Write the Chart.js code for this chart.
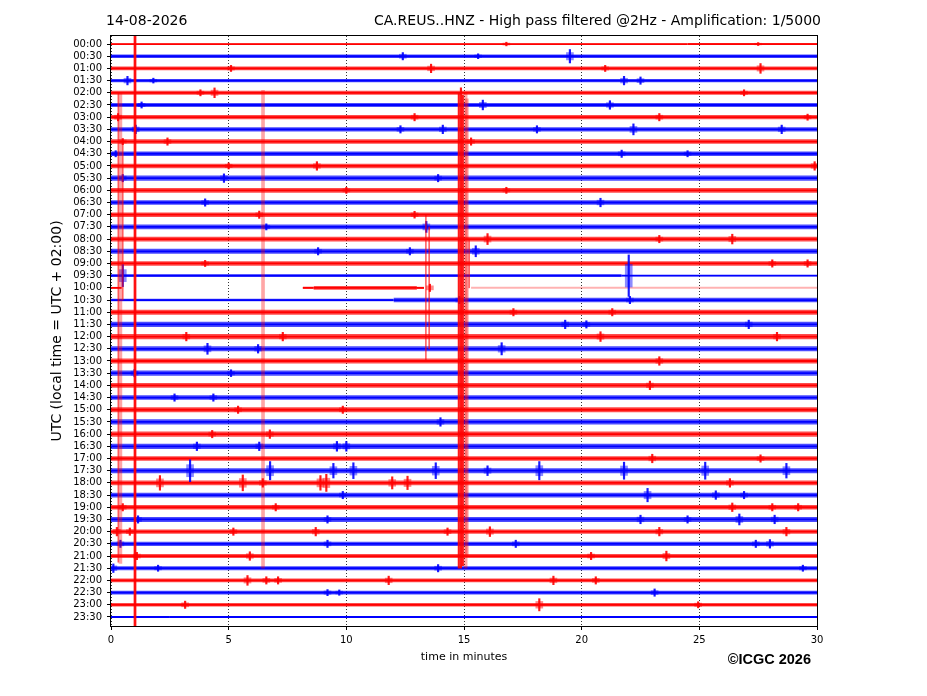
<!DOCTYPE html>
<html>
<head>
<meta charset="utf-8">
<title>CA.REUS..HNZ helicorder</title>
<script src="https://cdn.jsdelivr.net/npm/chart.js@4.4.1/dist/chart.umd.min.js"></script>
<style>
    body { margin: 0; background: #fff; }
    #wrap { width: 927px; height: 696px; position: relative; }
</style>
</head>
<body>
<div id="wrap"><canvas id="helicorder"></canvas></div>
<script>
// Row labels (one trace every 30 minutes)
const rowLabels = [
    "00:00", "00:30", "01:00", "01:30", "02:00", "02:30", "03:00", "03:30",
    "04:00", "04:30", "05:00", "05:30", "06:00", "06:30", "07:00", "07:30",
    "08:00", "08:30", "09:00", "09:30", "10:00", "10:30", "11:00", "11:30",
    "12:00", "12:30", "13:00", "13:30", "14:00", "14:30", "15:00", "15:30",
    "16:00", "16:30", "17:00", "17:30", "18:00", "18:30", "19:00", "19:30",
    "20:00", "20:30", "21:00", "21:30", "22:00", "22:30", "23:00", "23:30"
];

const minuteTicks = [0, 5, 10, 15, 20, 25, 30];

// Background noise per trace: [from minute, to minute, half amplitude in rows]
const noiseSegments = [
    [[0, 24.5, 0.04], [24.5, 30, 0.08]],
    [[0, 30, 0.15]],
    [[0, 30, 0.15]],
    [[0, 30, 0.14]],
    [[0, 30, 0.16]],
    [[0, 30, 0.17]],
    [[0, 30, 0.17]],
    [[0, 30, 0.18]],
    [[0, 30, 0.18]],
    [[0, 30, 0.18]],
    [[0, 30, 0.18]],
    [[0, 30, 0.22]],
    [[0, 30, 0.19]],
    [[0, 30, 0.19]],
    [[0, 30, 0.19]],
    [[0, 30, 0.19]],
    [[0, 30, 0.2]],
    [[0, 30, 0.2]],
    [[0, 30, 0.19]],
    [[0, 21.7, 0.12], [21.7, 30, 0.04]],
    [[0, 0.45, 0.06], [8.15, 8.6, 0.08], [8.6, 13.0, 0.16], [13.0, 13.3, 0.08]],
    [[0, 12, 0.1], [12, 30, 0.19]],
    [[0, 30, 0.2]],
    [[0, 30, 0.22]],
    [[0, 30, 0.22]],
    [[0, 30, 0.21]],
    [[0, 30, 0.2]],
    [[0, 30, 0.22]],
    [[0, 30, 0.2]],
    [[0, 30, 0.18]],
    [[0, 30, 0.2]],
    [[0, 30, 0.22]],
    [[0, 30, 0.21]],
    [[0, 30, 0.21]],
    [[0, 30, 0.18]],
    [[0, 30, 0.2]],
    [[0, 30, 0.2]],
    [[0, 30, 0.2]],
    [[0, 30, 0.18]],
    [[0, 30, 0.2]],
    [[0, 30, 0.18]],
    [[0, 30, 0.18]],
    [[0, 30, 0.17]],
    [[0, 30, 0.16]],
    [[0, 30, 0.16]],
    [[0, 30, 0.15]],
    [[0, 30, 0.15]],
    [[0, 2.5, 0.09], [2.5, 30, 0.05]]
];

// Traces with almost no signal: [row, from minute, to minute]
const faintSegments = [
    [20, 15.3, 30]
];

// Local bursts: [row, minute, half amplitude in rows]
const bursts = [
    [0, 16.8, 0.15], [0, 27.5, 0.12],
    [1, 12.4, 0.3], [1, 15.6, 0.2], [1, 19.5, 0.55],
    [2, 5.1, 0.25], [2, 13.6, 0.35], [2, 21.0, 0.25], [2, 27.6, 0.4],
    [3, 0.7, 0.35], [3, 1.8, 0.2], [3, 21.8, 0.35], [3, 22.5, 0.3],
    [4, 3.8, 0.25], [4, 4.4, 0.4], [4, 26.9, 0.25],
    [5, 1.3, 0.25], [5, 15.8, 0.4], [5, 21.2, 0.35],
    [6, 0.3, 0.3], [6, 12.9, 0.3], [6, 23.3, 0.3], [6, 29.6, 0.25],
    [7, 1.05, 0.35], [7, 12.3, 0.3], [7, 14.1, 0.35], [7, 18.1, 0.3], [7, 22.2, 0.45], [7, 28.5, 0.35],
    [8, 0.5, 0.25], [8, 2.4, 0.3], [8, 15.3, 0.3],
    [9, 0.2, 0.25], [9, 21.7, 0.3], [9, 24.5, 0.25],
    [10, 5.0, 0.25], [10, 8.75, 0.35], [10, 29.9, 0.35],
    [11, 0.5, 0.3], [11, 4.8, 0.35], [11, 13.9, 0.3],
    [12, 10.0, 0.25], [12, 16.8, 0.25],
    [13, 4.0, 0.3], [13, 20.8, 0.35],
    [14, 6.3, 0.3], [14, 12.9, 0.28],
    [15, 6.6, 0.25], [15, 13.4, 0.45],
    [16, 16.0, 0.45], [16, 23.3, 0.3], [16, 26.4, 0.4],
    [17, 8.8, 0.3], [17, 12.7, 0.3], [17, 15.5, 0.45],
    [18, 4.0, 0.25], [18, 28.1, 0.3], [18, 29.6, 0.3],
    [19, 0.5, 0.9], [19, 22.0, 1.7],
    [20, 13.55, 0.3],
    [21, 14.8, 0.3], [21, 22.05, 0.3],
    [22, 17.1, 0.3], [22, 21.3, 0.3],
    [23, 19.3, 0.35], [23, 20.2, 0.3], [23, 27.1, 0.35],
    [24, 3.2, 0.35], [24, 7.3, 0.35], [24, 20.8, 0.4], [24, 28.3, 0.35],
    [25, 4.1, 0.45], [25, 6.25, 0.35], [25, 16.6, 0.5],
    [26, 23.3, 0.35],
    [27, 1.0, 0.3], [27, 5.1, 0.28],
    [28, 22.9, 0.35],
    [29, 2.7, 0.3], [29, 4.35, 0.3],
    [30, 5.4, 0.3], [30, 9.85, 0.3],
    [31, 14.0, 0.35],
    [32, 4.3, 0.3], [32, 6.75, 0.35],
    [33, 3.65, 0.35], [33, 6.3, 0.35], [33, 9.6, 0.4], [33, 10.0, 0.4],
    [34, 23.0, 0.35], [34, 27.6, 0.3],
    [35, 3.36, 0.9], [35, 6.76, 0.75], [35, 9.45, 0.6], [35, 10.3, 0.65], [35, 13.8, 0.65],
    [35, 16.0, 0.4], [35, 18.2, 0.75], [35, 21.8, 0.7], [35, 25.25, 0.7], [35, 28.7, 0.6],
    [36, 2.08, 0.6], [36, 5.6, 0.65], [36, 6.45, 0.35], [36, 8.9, 0.6], [36, 9.15, 0.7],
    [36, 11.95, 0.5], [36, 12.6, 0.55], [36, 26.3, 0.35],
    [37, 9.85, 0.3], [37, 22.8, 0.55], [37, 25.7, 0.35], [37, 26.9, 0.3],
    [38, 0.5, 0.3], [38, 7.0, 0.3], [38, 26.4, 0.35], [38, 28.1, 0.3], [38, 29.2, 0.3],
    [39, 1.15, 0.3], [39, 9.2, 0.3], [39, 22.5, 0.35], [39, 24.5, 0.3], [39, 26.7, 0.45], [39, 28.2, 0.35],
    [40, 0.25, 0.35], [40, 0.8, 0.3], [40, 5.2, 0.3], [40, 8.7, 0.35], [40, 14.3, 0.3],
    [40, 16.1, 0.4], [40, 23.3, 0.35], [40, 28.7, 0.35],
    [41, 0.4, 0.3], [41, 9.2, 0.3], [41, 17.2, 0.3], [41, 27.4, 0.3], [41, 28.0, 0.35],
    [42, 1.1, 0.3], [42, 5.9, 0.35], [42, 20.4, 0.3], [42, 23.6, 0.4],
    [43, 0.1, 0.35], [43, 2.0, 0.25], [43, 13.9, 0.3], [43, 29.4, 0.25],
    [44, 5.8, 0.4], [44, 6.6, 0.3], [44, 7.1, 0.3], [44, 11.8, 0.35], [44, 18.8, 0.35], [44, 20.6, 0.3],
    [45, 9.2, 0.25], [45, 9.7, 0.22], [45, 23.1, 0.3],
    [46, 3.15, 0.3], [46, 18.2, 0.5], [46, 24.95, 0.25]
];

// Large spikes crossing several traces: [minute, from row, to row]
const strongStreaks = [
    [1.02, -0.66, 47.74],
    [14.78, 4.0, 43.0],
    [14.87, 3.6, 43.0],
    [14.95, 4.2, 42.8]
];

const mediumStreaks = [
    [0.31, 4.0, 42.5],
    [0.5, 8.0, 21.0],
    [13.38, 14.0, 26.0],
    [13.52, 15.0, 25.0],
    [15.22, 16.0, 20.0]
];

const faintStreaks = [
    [1.02, -0.66, 47.74],
    [0.4, 4.0, 42.6],
    [6.46, 3.8, 43.0],
    [15.07, 4.0, 43.0],
    [15.12, 4.5, 42.0]
];

Chart.defaults.font.family = "'DejaVu Sans', sans-serif";
Chart.defaults.color = "#000";

function rowColor(row, alpha) {
    return row % 2 === 0 ? `rgba(255, 0, 0, ${alpha})` : `rgba(0, 0, 255, ${alpha})`;
}

function flatLine(from, to, y, extra) {
    return Object.assign({
        type: "line",
        data: [{ x: from, y: y }, { x: to, y: y }],
        pointRadius: 0,
        borderColor: "rgba(0, 0, 0, 0)",
        borderWidth: 0,
        fill: false
    }, extra);
}

function bandDatasets() {
    const sets = [];
    noiseSegments.forEach((segments, row) => {
        segments.forEach(([from, to, amp]) => {
            sets.push(flatLine(from, to, row - amp));
            sets.push(flatLine(from, to, row + amp, { fill: "-1", backgroundColor: rowColor(row, 0.7) }));
            sets.push(flatLine(from, to, row, { borderColor: rowColor(row, 1), borderWidth: 1.8 }));
        });
    });
    faintSegments.forEach(([row, from, to]) => {
        sets.push(flatLine(from, to, row, { borderColor: rowColor(row, 0.3), borderWidth: 2 }));
    });
    return sets;
}

function burstDatasets() {
    const sets = [];
    [0, 1].forEach((parity) => {
        const own = bursts.filter(([row]) => row % 2 === parity);
        sets.push({
            type: "bar",
            data: own.map(([row, minute, amp]) => ({ x: minute, y: [row - amp, row + amp] })),
            backgroundColor: rowColor(parity, 0.9),
            barThickness: 1.5,
            grouped: false
        });
        sets.push({
            type: "bar",
            data: own.map(([row, minute, amp]) => ({ x: minute, y: [row - amp * 0.55, row + amp * 0.55] })),
            backgroundColor: rowColor(parity, 0.45),
            barThickness: 7,
            grouped: false
        });
    });
    return sets;
}

function streakDatasets() {
    const groups = [
        [strongStreaks, "rgba(255, 0, 0, 0.9)", 1.5],
        [mediumStreaks, "rgba(255, 0, 0, 0.6)", 1],
        [faintStreaks, "rgba(255, 0, 0, 0.35)", 3]
    ];
    return groups.map(([list, color, thickness]) => ({
        type: "bar",
        data: list.map(([minute, from, to]) => ({ x: minute, y: [from, to] })),
        backgroundColor: color,
        barThickness: thickness,
        grouped: false
    }));
}

// Titles, frame and credit
const decorations = {
    id: "decorations",
    afterDraw(chart) {
        const { ctx, chartArea } = chart;
        ctx.save();
        ctx.strokeStyle = "#000";
        ctx.lineWidth = 1;
        ctx.strokeRect(chartArea.left - 0.5, chartArea.top - 0.5, chartArea.width + 1, chartArea.height + 1);

        ctx.fillStyle = "#000";
        ctx.font = "14px 'DejaVu Sans'";
        ctx.textBaseline = "alphabetic";
        ctx.textAlign = "left";
        ctx.fillText("14-08-2026", 106, 25);
        ctx.textAlign = "right";
        ctx.fillText("CA.REUS..HNZ - High pass filtered @2Hz - Amplification: 1/5000", 821, 25);

        ctx.font = "11px 'DejaVu Sans'";
        ctx.textAlign = "center";
        ctx.fillText("time in minutes", (chartArea.left + chartArea.right) / 2, 660);

        ctx.font = "bold 14.5px 'Liberation Sans'";
        ctx.textAlign = "right";
        ctx.fillText("\u00A9ICGC 2026", 811, 664);

        ctx.translate(57, (chartArea.top + chartArea.bottom) / 2);
        ctx.rotate(-Math.PI / 2);
        ctx.font = "14px 'DejaVu Sans'";
        ctx.textAlign = "center";
        ctx.textBaseline = "middle";
        ctx.fillText("UTC (local time = UTC + 02:00)", 0, 0);
        ctx.restore();
    }
};

const chart = new Chart(document.getElementById("helicorder"), {
    type: "line",
    data: {
        datasets: [...streakDatasets(), ...burstDatasets(), ...bandDatasets()]
    },
    options: {
        responsive: true,
        maintainAspectRatio: false,
        animation: false,
        events: [],
        layout: { padding: { left: 0, right: 110, top: 36, bottom: 0 } },
        scales: {
            x: {
                type: "linear",
                min: 0,
                max: 30,
                offset: false,
                afterFit: (scale) => { scale.height = 70; },
                afterBuildTicks: (scale) => { scale.ticks = minuteTicks.map((v) => ({ value: v })); },
                ticks: { font: { size: 10 }, color: "#000", padding: 4 },
                grid: {
                    offset: false,
                    color: "#000",
                    lineWidth: 0.8,
                    tickColor: "#000",
                    tickLength: 4,
                    tickWidth: 1,
                    tickBorderDash: []
                },
                border: { display: false, dash: [1, 2] }
            },
            y: {
                type: "linear",
                reverse: true,
                min: -0.66,
                max: 47.74,
                afterFit: (scale) => { scale.width = 111; },
                afterBuildTicks: (scale) => { scale.ticks = rowLabels.map((label, i) => ({ value: i })); },
                ticks: {
                    autoSkip: false,
                    font: { size: 10 },
                    color: "#000",
                    padding: 5,
                    callback: (value) => rowLabels[value]
                },
                grid: {
                    drawOnChartArea: false,
                    tickColor: "#000",
                    tickLength: 4,
                    tickWidth: 1
                },
                border: { display: false }
            }
        },
        plugins: {
            legend: { display: false },
            tooltip: { enabled: false }
        }
    },
    plugins: [decorations]
});
</script>
</body>
</html>
